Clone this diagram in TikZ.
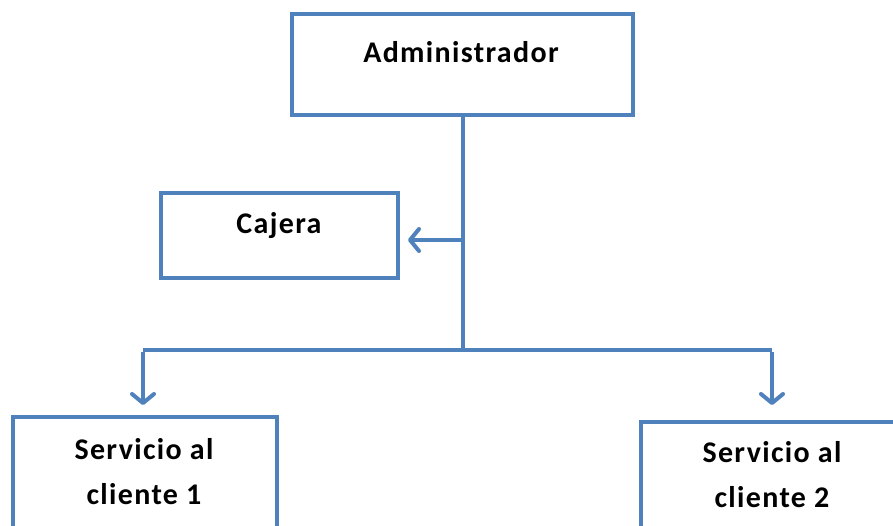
\documentclass[tikz,border=0pt]{standalone}
\usepackage{fontspec}
\setmainfont{Carlito}
\newfontfamily\boxfont[LetterSpace=4.5]{Carlito}
\usetikzlibrary{arrows.meta}
\definecolor{officeblue}{HTML}{4F81BD}
\tikzset{
  box/.style={draw=officeblue, line width=4pt, fill=white, inner sep=0pt, outer sep=0pt},
  conn/.style={draw=officeblue, line width=4pt},
  tip/.style={-{Straight Barb[length=9pt,width=22pt,line cap=round,line join=round]}},
  lbl/.style={font=\boxfont\bfseries\fontsize{30}{36}\selectfont, anchor=base, inner sep=0pt}
}
\begin{document}
\begin{tikzpicture}[x=1pt,y=-1pt]
\useasboundingbox (0,0) rectangle (893,525);
\fill[white] (0,0) rectangle (893,525);
% boxes
\node[box, minimum width=341pt, minimum height=101pt] (admin) at (462.5,64) {};
\node[box, minimum width=237pt, minimum height=85pt] (caj) at (279.5,235.5) {};
\node[box, minimum width=264pt, minimum height=143pt] (s1) at (145,488.5) {};
\node[box, minimum width=278pt, minimum height=138pt] (s2) at (780,491) {};
% texts
\node[lbl] (tadmin) at (461,62) {Administrador};
\node[lbl] (tcaj) at (279,233) {Cajera};
\node[lbl] (ts1a) at (144,459) {Servicio al};
\node[lbl] (ts1b) at (144,504) {cliente 1};
\node[lbl] (ts2a) at (772,462) {Servicio al};
\node[lbl] (ts2b) at (772,507) {cliente 2};
% connectors
\coordinate (j) at (463,350);
\coordinate (jc) at (463,240);
\coordinate (l) at (143,350);
\coordinate (r) at (772,350);
\draw[conn] (admin.south -| j) -- (j);
\draw[conn, tip, shorten >=10pt] (jc) -- (jc -| caj.east);
\draw[conn, line join=miter] (l) -- (r);
\draw[conn, tip, shorten >=12pt] ([yshift=-2pt]l) -- (l |- s1.north);
\draw[conn, tip, shorten >=17pt] ([yshift=-2pt]r) -- (r |- s2.north);
\end{tikzpicture}
\end{document}
